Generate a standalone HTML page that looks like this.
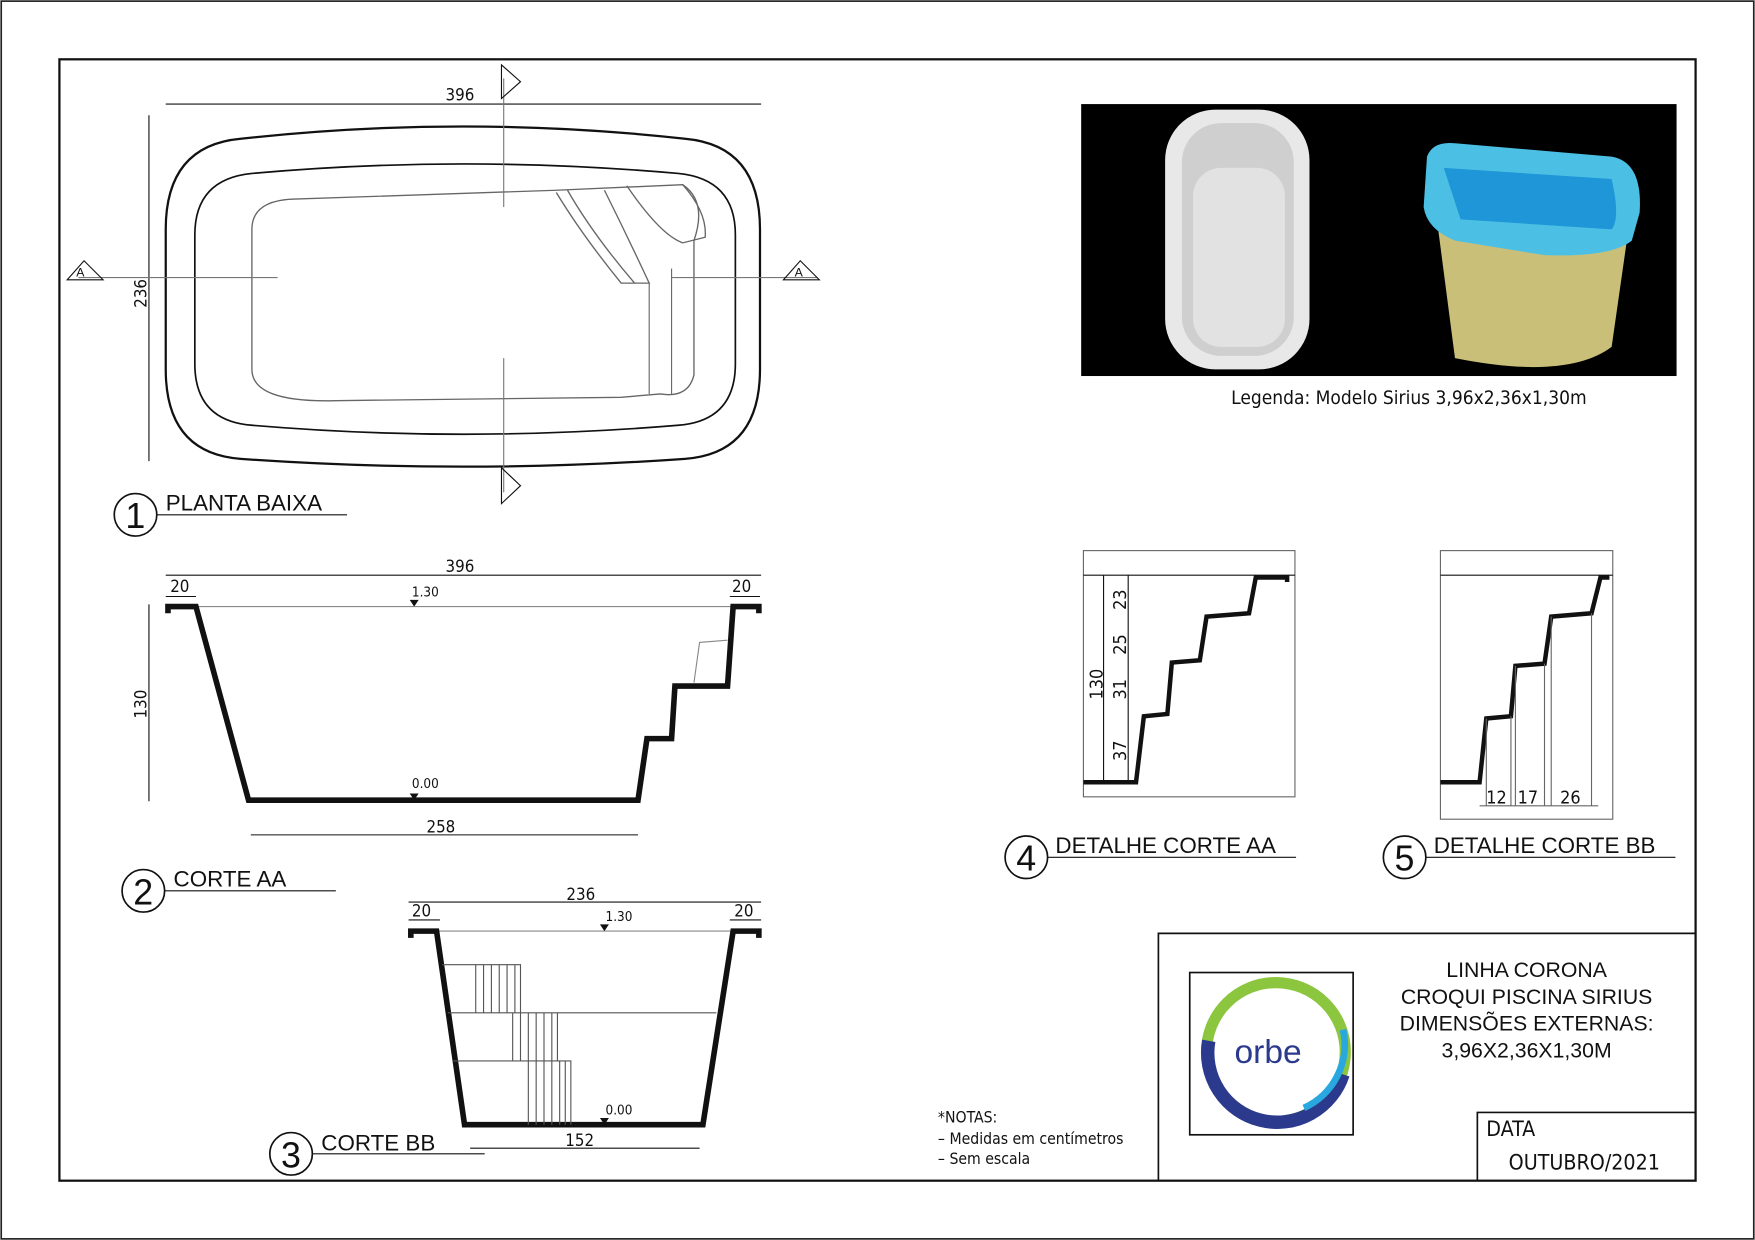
<!DOCTYPE html>
<html><head><meta charset="utf-8"><style>
html,body{margin:0;padding:0;background:#fff}
svg{display:block}
text{font-family:"Liberation Sans",sans-serif;fill:#111}
.n{font-family:"DejaVu Sans Condensed","DejaVu Sans",sans-serif}
</style></head><body>
<svg width="1755" height="1240" viewBox="0 0 1568 1108" xmlns="http://www.w3.org/2000/svg">
<rect x="1" y="1" width="1566" height="1106" fill="#fff" stroke="#222" stroke-width="1.5"/>
<rect x="53" y="53" width="1462" height="1002" fill="none" stroke="#111" stroke-width="2"/>

<!-- PLAN -->
<g fill="none" stroke="#111">
<line x1="148" y1="93" x2="680" y2="93" stroke-width="1"/>
<line x1="133" y1="103" x2="133" y2="412" stroke-width="1"/>
<path d="M148,205 Q148,130 215,124 Q414,102 612,124 Q679,130 679,205 L679,330 Q679,405 612,410 Q414,424 215,410 Q148,405 148,330 Z" stroke-width="2"/>
<path d="M174,210 Q174,160 225,155 Q414,138 606,155 Q657,160 657,210 L657,325 Q657,376 606,380 Q414,396 225,380 Q174,376 174,325 Z" stroke-width="1.5"/>
<path d="M225,205 Q225,180 260,178 L497,170 L610,165 Q632,180 620,215 L620,335 Q615,356 590,352 L555,355 L300,358 Q225,360 225,330 Z" stroke="#666" stroke-width="1.2"/>
<path d="M497,172 Q520,210 555,253 L580,253 Q560,210 540,170 M507,170 Q530,210 567,253 M560,166 Q590,210 610,217 L630,212 Q632,190 610,165" stroke="#666" stroke-width="1.2"/>
<line x1="580" y1="253" x2="580" y2="352" stroke="#666"/>
<line x1="600" y1="240" x2="600" y2="352" stroke="#666"/>
<g stroke="#777" stroke-width="1">
<line x1="450" y1="70" x2="450" y2="185"/><line x1="450" y1="320" x2="450" y2="440"/>
<line x1="70" y1="248" x2="248" y2="248"/><line x1="600" y1="248" x2="730" y2="248"/>
</g>
<path d="M60,250 L75,233 L92,250 Z M700,250 L715,233 L732,250 Z" stroke-width="1"/>
<path d="M448,58 L448,88 L465,73 Z M448,418 L448,450 L465,434 Z" stroke-width="1"/>
<circle cx="121" cy="460" r="19" stroke-width="1.5"/>
<line x1="140" y1="460" x2="310" y2="460"/>
</g>
<text x="398" y="90" font-size="15" class="n">396</text>
<text x="131" y="275" font-size="15" class="n" transform="rotate(-90 131 275)">236</text>
<text x="68" y="247" font-size="11">A</text><text x="710" y="247" font-size="11">A</text>
<text x="112" y="472" font-size="32">1</text>
<text x="148" y="456" font-size="20">PLANTA BAIXA</text>

<!-- CORTE AA -->
<g fill="none" stroke="#111">
<line x1="148" y1="514" x2="680" y2="514"/>
<line x1="148" y1="533" x2="175" y2="533"/><line x1="652" y1="533" x2="679" y2="533"/>
<line x1="133" y1="540" x2="133" y2="716"/>
<line x1="224" y1="746" x2="570" y2="746"/>
<line x1="175" y1="542" x2="655" y2="542" stroke="#888"/>
<path d="M150,548 L150,542 L175,542 L222,715 L570,715 L578,660 L600,660 L603,613 L650,613 L655,542 L678,542 L678,548" stroke-width="5"/>
<path d="M620,610 L625,574 L650,572" stroke="#888"/>
<circle cx="128" cy="796" r="19" stroke-width="1.5"/>
<line x1="147" y1="796" x2="300" y2="796"/>
</g>
<path d="M366,536 L374,536 L370,542 Z M366,709 L374,709 L370,715 Z" fill="#111"/>
<text x="398" y="511" font-size="15" class="n">396</text>
<text x="152" y="529" font-size="15" class="n">20</text><text x="654" y="529" font-size="15" class="n">20</text>
<text x="368" y="533" font-size="12" class="n">1.30</text><text x="368" y="704" font-size="12" class="n">0.00</text>
<text x="131" y="642" font-size="15" class="n" transform="rotate(-90 131 642)">130</text>
<text x="381" y="744" font-size="15" class="n">258</text>
<text x="119" y="808" font-size="32">2</text>
<text x="155" y="792" font-size="20">CORTE AA</text>

<!-- CORTE BB -->
<g fill="none" stroke="#111">
<line x1="365" y1="806" x2="680" y2="806"/>
<line x1="365" y1="822" x2="393" y2="822"/><line x1="652" y1="822" x2="680" y2="822"/>
<line x1="420" y1="1026" x2="625" y2="1026"/>
<line x1="390" y1="832" x2="655" y2="832" stroke="#888"/>
<path d="M367,838 L367,832 L390,832 L415,1005 L628,1005 L655,832 L678,832 L678,838" stroke-width="5"/>
<g stroke="#555" stroke-width="1">
<path d="M395,862 L465,862 L465,905 L640,905 M400,905 L498,905 L498,948 L405,948 M405,948 L510,948 L510,1005"/>
<path d="M425,862V905 M432,862V905 M439,862V905 M446,862V905 M453,862V905 M460,862V905 M458,905V948 M465,905V948 M472,905V948 M479,905V948 M486,905V948 M493,905V948 M472,948V1005 M479,948V1005 M486,948V1005 M493,948V1005 M500,948V1005 M505,948V1005"/>
</g>
<circle cx="260" cy="1031" r="19" stroke-width="1.5"/>
<line x1="279" y1="1031" x2="433" y2="1031"/>
</g>
<path d="M536,826 L544,826 L540,832 Z M536,999 L544,999 L540,1005 Z" fill="#111"/>
<text x="506" y="804" font-size="15" class="n">236</text>
<text x="368" y="819" font-size="15" class="n">20</text><text x="656" y="819" font-size="15" class="n">20</text>
<text x="541" y="823" font-size="12" class="n">1.30</text><text x="541" y="996" font-size="12" class="n">0.00</text>
<text x="505" y="1024" font-size="15" class="n">152</text>
<text x="251" y="1043" font-size="32">3</text>
<text x="287" y="1028" font-size="20">CORTE BB</text>

<!-- PHOTO -->
<rect x="966" y="93" width="532" height="243" fill="#000"/>
<rect x="1041" y="98" width="129" height="232" rx="45" fill="#e8e8e8"/>
<rect x="1056" y="110" width="100" height="208" rx="35" fill="#cfcfcf"/>
<rect x="1066" y="150" width="82" height="160" rx="25" fill="#e2e2e2"/>
<path d="M1285,205 L1455,205 L1440,310 Q1400,340 1300,320 Z" fill="#c9bf78"/>
<path d="M1275,140 Q1280,126 1300,128 L1440,140 Q1468,145 1465,190 L1458,215 Q1440,230 1380,228 L1300,215 Q1275,205 1272,185 Z" fill="#4cc0e4"/>
<path d="M1290,150 L1440,160 Q1448,195 1440,205 L1305,196 Z" fill="#1e96d8"/>
<text x="1100" y="361" font-size="17" class="n">Legenda: Modelo Sirius 3,96x2,36x1,30m</text>

<!-- DETAIL 4 -->
<g fill="none" stroke="#111">
<rect x="968" y="492" width="189" height="220" stroke="#666"/>
<line x1="968" y1="514" x2="1157" y2="514"/>
<line x1="986" y1="514" x2="986" y2="700"/><line x1="1008" y1="514" x2="1008" y2="700"/>
<path d="M968,699 L1015,699 L1022,640 L1043,638 L1047,592 L1072,590 L1078,551 L1116,548 L1122,516 L1150,516 L1150,520" stroke-width="4"/>
<circle cx="917" cy="766" r="19" stroke-width="1.5"/>
<line x1="936" y1="766" x2="1158" y2="766"/>
</g>
<text x="985" y="625" font-size="16" class="n" transform="rotate(-90 985 625)">130</text>
<text x="1006" y="545" font-size="16" class="n" transform="rotate(-90 1006 545)">23</text>
<text x="1006" y="585" font-size="16" class="n" transform="rotate(-90 1006 585)">25</text>
<text x="1006" y="625" font-size="16" class="n" transform="rotate(-90 1006 625)">31</text>
<text x="1006" y="680" font-size="16" class="n" transform="rotate(-90 1006 680)">37</text>
<text x="908" y="778" font-size="32">4</text>
<text x="943" y="762" font-size="20">DETALHE CORTE AA</text>

<!-- DETAIL 5 -->
<g fill="none" stroke="#111">
<rect x="1287" y="492" width="154" height="240" stroke="#666"/>
<line x1="1287" y1="514" x2="1441" y2="514"/>
<path d="M1287,699 L1322,699 L1328,642 L1350,640 L1354,595 L1380,593 L1386,551 L1422,548 L1430,516 L1438,516" stroke-width="4"/>
<g stroke="#666" stroke-width="1"><path d="M1328,642V720 M1350,640V720 M1354,595V720 M1380,593V720 M1386,551V720 M1422,548V720 M1322,720H1428"/></g>
<circle cx="1255" cy="766" r="19" stroke-width="1.5"/>
<line x1="1274" y1="766" x2="1497" y2="766"/>
</g>
<text x="1328" y="718" font-size="16" class="n">12</text><text x="1356" y="718" font-size="16" class="n">17</text><text x="1394" y="718" font-size="16" class="n">26</text>
<text x="1246" y="778" font-size="32">5</text>
<text x="1281" y="762" font-size="20">DETALHE CORTE BB</text>

<!-- NOTES -->
<text x="838" y="1003" font-size="14" class="n">*NOTAS:</text>
<text x="838" y="1022" font-size="14" class="n">– Medidas em centímetros</text>
<text x="838" y="1040" font-size="14" class="n">– Sem escala</text>

<!-- TITLE BLOCK -->
<g fill="none" stroke="#111" stroke-width="1.5">
<path d="M1035,1055 L1035,834 L1515,834"/>
<path d="M1320,1055 L1320,994 L1515,994"/>
<rect x="1063" y="869" width="146" height="145"/>
</g>
<circle cx="1140" cy="940" r="62" fill="none" stroke="#8cc63f" stroke-width="10"/>
<path d="M1080,930 A62,62 0 0 0 1200,960" fill="none" stroke="#2b3a8c" stroke-width="12"/>
<path d="M1200,920 A62,62 0 0 1 1165,990" fill="none" stroke="#29a8e0" stroke-width="6"/>
<text x="1103" y="950" font-size="30" style="fill:#2b3a8c">orbe</text>
<g font-size="19" class="n" text-anchor="middle">
<text x="1364" y="873">LINHA CORONA</text>
<text x="1364" y="897">CROQUI PISCINA SIRIUS</text>
<text x="1364" y="921">DIMENSÕES EXTERNAS:</text>
<text x="1364" y="945">3,96X2,36X1,30M</text>
</g>
<text x="1328" y="1015" font-size="19" class="n">DATA</text>
<text x="1348" y="1045" font-size="19" class="n">OUTUBRO/2021</text>
</svg>
</body></html>
